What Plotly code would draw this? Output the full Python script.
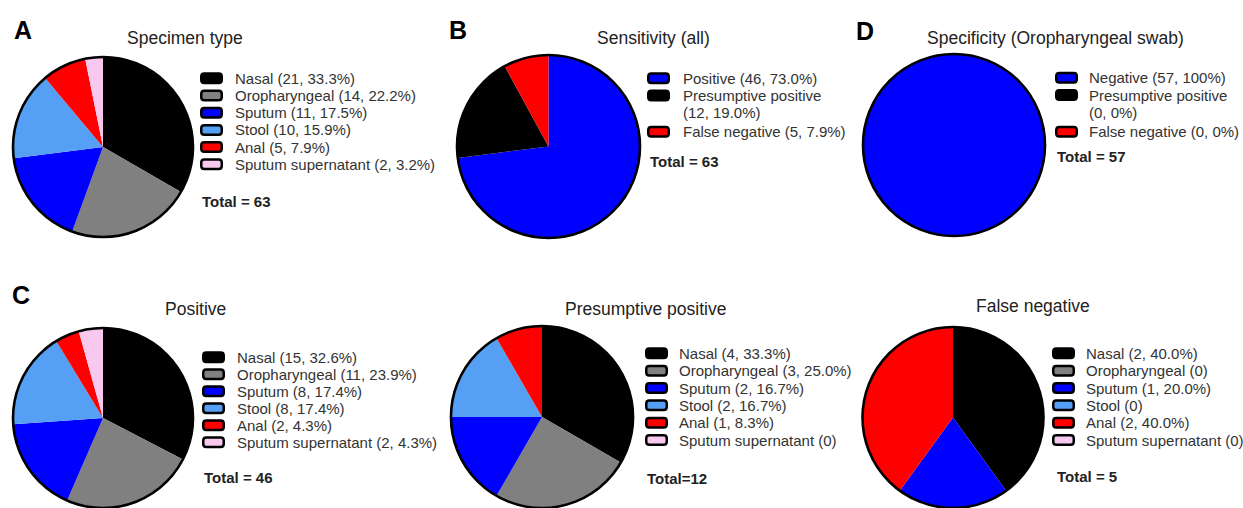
import plotly.graph_objects as go

W, H = 1243, 508

# ---------------- data ----------------
specimen_types = ["Nasal", "Oropharyngeal", "Sputum", "Stool", "Anal", "Sputum supernatant"]
specimen_colors = ["#000000", "#808080", "#0000ff", "#55a0f5", "#ff0000", "#f9c8ef"]

A_values = [21, 14, 11, 10, 5, 2]
A_labels = ["Nasal (21, 33.3%)", "Oropharyngeal (14, 22.2%)", "Sputum (11, 17.5%)",
            "Stool (10, 15.9%)", "Anal (5, 7.9%)", "Sputum supernatant (2, 3.2%)"]

B_categories = ["Positive", "Presumptive positive", "False negative"]
B_colors = ["#0000ff", "#000000", "#ff0000"]
B_values = [46, 12, 5]
B_labels = [["Positive (46, 73.0%)"], ["Presumptive positive", "(12, 19.0%)"],
            ["False negative (5, 7.9%)"]]

D_categories = ["Negative", "Presumptive positive", "False negative"]
D_colors = ["#0000ff", "#000000", "#ff0000"]
D_values = [57, 0, 0]
D_labels = [["Negative (57, 100%)"], ["Presumptive positive", "(0, 0%)"],
            ["False negative (0, 0%)"]]

C_values = [15, 11, 8, 8, 2, 2]
C_labels = ["Nasal (15, 32.6%)", "Oropharyngeal (11, 23.9%)", "Sputum (8, 17.4%)",
            "Stool (8, 17.4%)", "Anal (2, 4.3%)", "Sputum supernatant (2, 4.3%)"]

PP_values = [4, 3, 2, 2, 1, 0]
PP_labels = ["Nasal (4, 33.3%)", "Oropharyngeal (3, 25.0%)", "Sputum (2, 16.7%)",
             "Stool (2, 16.7%)", "Anal (1, 8.3%)", "Sputum supernatant (0)"]

FN_values = [2, 0, 1, 0, 2, 0]
FN_labels = ["Nasal (2, 40.0%)", "Oropharyngeal (0)", "Sputum (1, 20.0%)",
             "Stool (0)", "Anal (2, 40.0%)", "Sputum supernatant (0)"]

# ---------------- helpers ----------------
def X(p):
    return p / W

def Y(p):
    return 1 - p / H

FONT = "Liberation Sans, Arial, sans-serif"

fig = go.Figure()
annotations = []
shapes = []


def add_pie(cats, vals, colors, box):
    x0, y0, x1, y1 = box
    dom = dict(x=[X(x0), X(x1)], y=[max(0, Y(y1)), min(1, Y(y0))])
    fig.add_trace(go.Pie(labels=cats, values=vals, marker=dict(colors=colors, line=dict(width=0)),
                         sort=False, direction="clockwise", rotation=0, textinfo="none",
                         hoverinfo="label+value", showlegend=False, domain=dom))
    # outer ring
    fig.add_trace(go.Pie(labels=["outline"], values=[1],
                         marker=dict(colors=["rgba(0,0,0,0)"], line=dict(width=2.6, color="#000")),
                         sort=False, textinfo="none", hoverinfo="skip", showlegend=False, domain=dom))


def box_path(x0, y0, x1, y1, r=3):
    return (f"M {X(x0+r)},{Y(y0)} L {X(x1-r)},{Y(y0)} Q {X(x1)},{Y(y0)} {X(x1)},{Y(y0+r)} "
            f"L {X(x1)},{Y(y1-r)} Q {X(x1)},{Y(y1)} {X(x1-r)},{Y(y1)} "
            f"L {X(x0+r)},{Y(y1)} Q {X(x0)},{Y(y1)} {X(x0)},{Y(y1-r)} "
            f"L {X(x0)},{Y(y0+r)} Q {X(x0)},{Y(y0)} {X(x0+r)},{Y(y0)} Z")


def add_legend(labels, colors, bx, tx, y_start, step, total_text, total_xy, wrap_gap=1.8):
    y = y_start
    for lab, col in zip(labels, colors):
        lines = lab if isinstance(lab, list) else [lab]
        shapes.append(dict(type="path", xref="paper", yref="paper",
                           path=box_path(bx + 1.25, y - 4.75, bx + 21.75, y + 4.75),
                           fillcolor=col, line=dict(color="#000", width=2.5)))
        for i, ln in enumerate(lines):
            annotations.append(dict(x=X(tx), y=Y(y + i * step), xref="paper", yref="paper",
                                    text=ln, showarrow=False, xanchor="left", yanchor="middle",
                                    font=dict(family=FONT, size=15, color="#333")))
        y += step * len(lines) + (wrap_gap if len(lines) > 1 else 0)
    annotations.append(dict(x=X(total_xy[0]), y=Y(total_xy[1]), xref="paper", yref="paper",
                            text=f"<b>{total_text}</b>", showarrow=False, xanchor="left",
                            yanchor="middle", font=dict(family=FONT, size=15, color="#222")))


def add_title(text, cx, cy):
    annotations.append(dict(x=X(cx), y=Y(cy), xref="paper", yref="paper", text=text,
                            showarrow=False, xanchor="center", yanchor="middle",
                            font=dict(family=FONT, size=17.5, color="#222")))


def add_letter(text, lx, cy):
    annotations.append(dict(x=X(lx), y=Y(cy), xref="paper", yref="paper", text=f"<b>{text}</b>",
                            showarrow=False, xanchor="left", yanchor="middle",
                            font=dict(family=FONT, size=25, color="#000")))


# ---------------- panels ----------------
# A
add_pie(specimen_types, A_values, specimen_colors, (13, 57, 193, 237))
add_title("Specimen type", 185, 38)
add_letter("A", 12, 30)
add_legend(A_labels, specimen_colors, 200, 233, 78.3, 17.2, "Total = 63", (200, 201.7))

# B
add_pie(B_categories, B_values, B_colors, (457, 55, 640, 238))
add_title("Sensitivity (all)", 653, 38)
add_letter("B", 447, 30)
add_legend(B_labels, B_colors, 647, 681, 78.3, 17.2, "Total = 63", (648, 161))

# D
add_pie(D_categories, D_values, D_colors, (863, 54, 1045, 236))
add_title("Specificity (Oropharyngeal swab)", 1055, 38)
add_letter("D", 854, 31)
add_legend(D_labels, D_colors, 1055, 1087, 77.7, 17.4, "Total = 57", (1055, 156.7))

# C
add_pie(specimen_types, C_values, specimen_colors, (13, 328, 193, 508))
add_title("Positive", 195, 309)
add_letter("C", 10, 295)
add_legend(C_labels, specimen_colors, 202, 235, 357.3, 17.0, "Total = 46", (202, 477.3))

# Presumptive positive
add_pie(specimen_types, PP_values, specimen_colors, (451, 326, 633, 508))
add_title("Presumptive positive", 645, 309)
add_legend(PP_labels, specimen_colors, 645, 677, 353.3, 17.35, "Total=12", (645, 478.3))

# False negative
add_pie(specimen_types, FN_values, specimen_colors, (862, 327, 1044, 508))
add_title("False negative", 1033, 306)
add_legend(FN_labels, specimen_colors, 1052, 1084, 353.3, 17.35, "Total = 5", (1055, 476.7))

fig.update_layout(width=W, height=H, margin=dict(l=0, r=0, t=0, b=0),
                  paper_bgcolor="white", plot_bgcolor="white",
                  annotations=annotations, shapes=shapes, showlegend=False)

fig.write_html("out.html", config={"displayModeBar": False},
               post_script="document.body.style.margin='0';document.body.style.padding='0';"
                           "document.body.style.overflow='hidden';")
